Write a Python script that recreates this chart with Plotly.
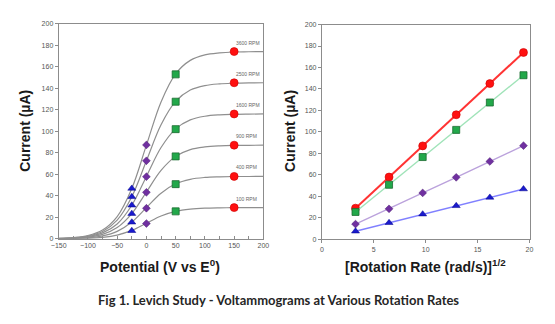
import plotly.graph_objects as go

# ---- data ----
potential = [-150, -125, -100, -75, -50, -25, 0, 25, 50, 75, 100, 125, 150, 175, 200]
curve_100 = [0.1, 0.2, 0.5, 1.4, 3.5, 7.8, 14.5, 21.2, 25.5, 27.6, 28.5, 28.8, 28.9, 29.0, 29.0]
curve_400 = [0.1, 0.4, 1.0, 2.7, 6.9, 15.6, 29.0, 42.4, 51.1, 55.3, 57.0, 57.6, 57.9, 57.9, 58.0]
curve_900 = [0.2, 0.6, 1.6, 4.1, 10.4, 23.4, 43.5, 63.6, 76.6, 82.9, 85.4, 86.4, 86.8, 86.9, 87.0]
curve_1600 = [0.3, 0.8, 2.1, 5.5, 13.8, 31.2, 58.0, 84.8, 102.2, 110.5, 113.9, 115.2, 115.7, 115.9, 116.0]
curve_2500 = [0.4, 1.0, 2.6, 6.8, 17.3, 39.0, 72.5, 106.0, 127.7, 138.2, 142.4, 144.0, 144.6, 144.9, 145.0]
curve_3600 = [0.4, 1.2, 3.1, 8.2, 20.7, 46.8, 87.0, 127.2, 153.3, 165.8, 170.9, 172.8, 173.6, 173.8, 174.0]
curves = [curve_100, curve_400, curve_900, curve_1600, curve_2500, curve_3600]
rpm_labels = ["100 RPM", "400 RPM", "900 RPM", "1600 RPM", "2500 RPM", "3600 RPM"]

sqrt_rate = [3.24, 6.47, 9.71, 12.94, 16.18, 19.42]
i_tri = [7.5, 15.4, 23.4, 31.2, 39.0, 46.8]       # at E = -25
i_dia = [14.2, 28.4, 43.2, 57.7, 72.5, 87.2]      # at E = 0
i_sq = [25.5, 50.8, 76.6, 101.9, 127.4, 152.8]    # at E = 50
i_circ = [29.0, 58.0, 87.0, 116.0, 145.0, 174.0]  # at E = 150
E_tri, E_dia, E_sq, E_circ = -25, 0, 50, 150

W, H = 555, 324
def px(x): return x / W
def py(y): return (H - y) / H

fig = go.Figure()

# left: voltammograms
for c in curves:
    fig.add_trace(go.Scatter(x=potential, y=c, mode="lines", line=dict(color="#8f8f8f", width=1.2, shape="spline"),
                             xaxis="x", yaxis="y", hoverinfo="skip"))

marker_styles = [
    (E_tri, i_tri, dict(symbol="triangle-up", size=7, color="#1a1acc", line=dict(color="#00008b", width=0.5))),
    (E_dia, i_dia, dict(symbol="diamond", size=6, color="#7030a0", line=dict(color="#4b1a70", width=0.5))),
    (E_sq, i_sq, dict(symbol="square", size=7, color="#22a84a", line=dict(color="#1a6b30", width=0.8))),
    (E_circ, i_circ, dict(symbol="circle", size=8, color="#ff1010", line=dict(color="#cc0000", width=0.6))),
]
for E, vals, mk in marker_styles:
    fig.add_trace(go.Scatter(x=[E] * len(vals), y=vals, mode="markers", marker=mk, xaxis="x", yaxis="y"))

for lab, iv in zip(rpm_labels, i_circ):
    fig.add_annotation(x=E_circ, y=iv, xref="x", yref="y", text=lab, showarrow=False,
                       xanchor="left", yanchor="bottom", xshift=0, yshift=4,
                       font=dict(size=5, color="#666666", family="Liberation Sans"))

# right: Levich plot
right_series = [
    (i_circ, "#ff3333", 2.0, marker_styles[3][2]),
    (i_sq, "#9fe3b8", 1.4, marker_styles[2][2]),
    (i_dia, "#bba2dc", 1.4, marker_styles[1][2]),
    (i_tri, "#8080ff", 1.4, marker_styles[0][2]),
]
for vals, lc, lw, mk in right_series:
    fig.add_trace(go.Scatter(x=sqrt_rate, y=vals, mode="lines+markers", line=dict(color=lc, width=lw),
                             marker=mk, xaxis="x2", yaxis="y2"))

axis_common = dict(showgrid=False, zeroline=False, showline=True, linecolor="#8c8c8c", linewidth=1, mirror=True,
                   ticks="outside", ticklen=3, tickcolor="#8c8c8c",
                   tickfont=dict(size=7, color="#555555", family="Liberation Sans"))

fig.update_layout(
    width=W, height=H, margin=dict(l=0, r=0, t=0, b=0),
    paper_bgcolor="white", plot_bgcolor="white", showlegend=False,
    xaxis=dict(domain=[px(52), px(262)], range=[-150, 200], tickvals=list(range(-150, 201, 50)), anchor="y",
               **{**axis_common, "ticks": "inside"},
               minor=dict(ticks="inside", tickvals=list(range(-125, 200, 50)), ticklen=3, tickcolor="#8c8c8c")),
    yaxis=dict(domain=[py(240), py(20)], range=[0, 200], tickvals=list(range(0, 201, 20)), anchor="x", **axis_common),
    xaxis2=dict(domain=[px(322), px(535)], range=[0, 20], tickvals=[0, 5, 10, 15, 20], anchor="y2", **axis_common),
    yaxis2=dict(domain=[py(240.5), py(21)], range=[0, 200], tickvals=list(range(0, 201, 20)), anchor="x2", **axis_common),
)

title_font = dict(size=14, color="#1a1a1a", family="Liberation Sans")
def title(x, y, text, angle=0, font=title_font):
    fig.add_annotation(x=px(x), y=py(y), xref="paper", yref="paper", text=text, textangle=angle,
                       xanchor="center", yanchor="middle", showarrow=False, font=font)

title(18, 130, "<b>Current (µA)</b>", -90)
title(290, 130, "<b>Current (µA)</b>", -90)
title(156, 268, "<b>Potential (V vs E<sup>0</sup>)</b>")
title(428, 268, "<b>[Rotation Rate (rad/s)]<sup>1/2</sup></b>")
title(277, 303, "<b>Fig 1. Levich Study - Voltammograms at Various Rotation Rates</b>",
      font=dict(size=13, color="#262626", family="Lato"))

fig.write_html("out.html")
